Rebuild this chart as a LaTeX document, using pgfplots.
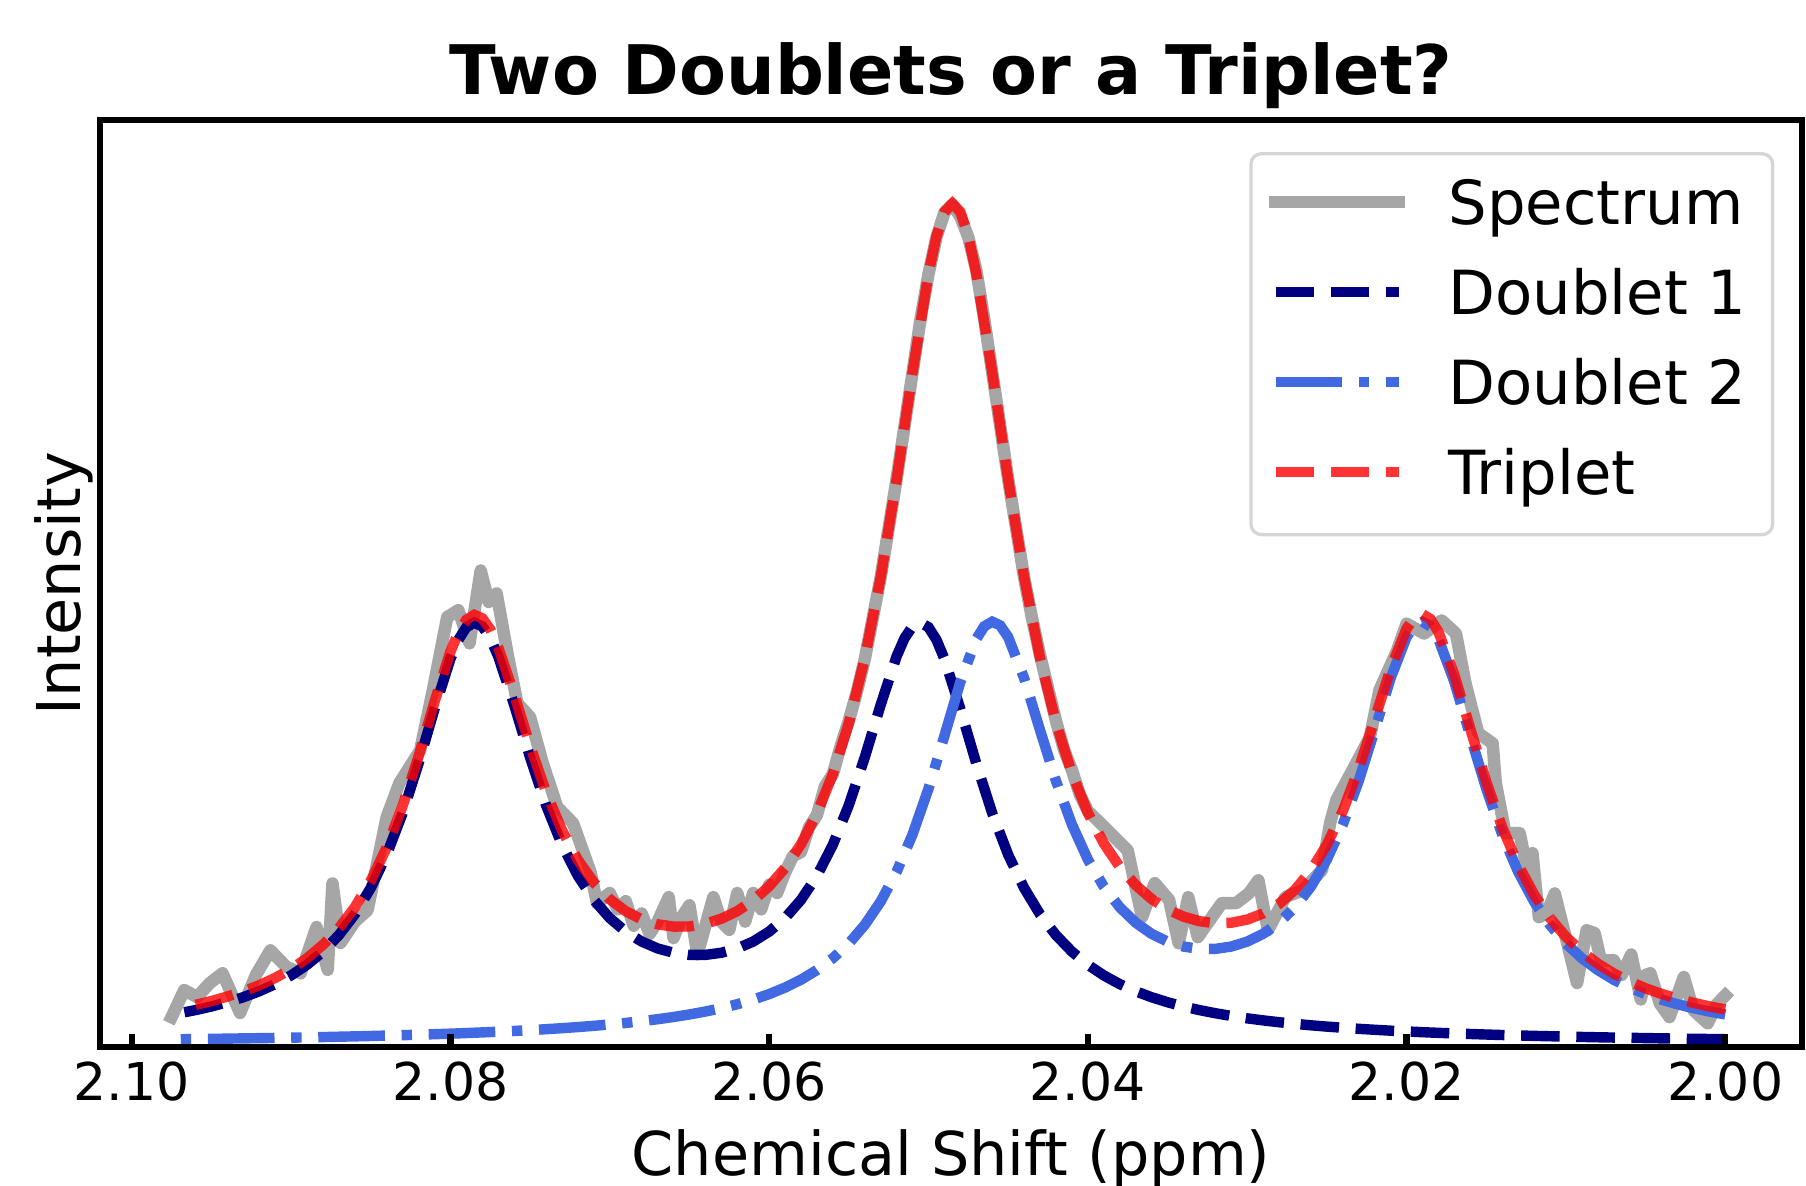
\documentclass[border=0pt]{standalone}
\usepackage{pgfplots}
\pgfplotsset{compat=1.18}
\usepackage{fontspec}
\setmainfont{DejaVu Sans}
\definecolor{specgray}{RGB}{166,166,166}
\definecolor{navyc}{RGB}{0,0,128}
\definecolor{royal}{RGB}{65,105,225}
\definecolor{legframe}{RGB}{214,214,214}
\begin{document}
\begin{tikzpicture}
\useasboundingbox (-24pt,-33.1pt) rectangle (409.4pt,251.3pt);
\begin{axis}[
  at={(0pt,0pt)}, anchor=south west,
  scale only axis, width=408.5pt, height=222.5pt,
  x dir=reverse, xmin=1.99517, xmax=2.10199, ymin=-0.0063, ymax=2.256,
  axis on top,
  axis line style={line width=1.5pt},
  xtick={2.10,2.08,2.06,2.04,2.02,2.00},
  xticklabels={2.10,2.08,2.06,2.04,2.02,2.00},
  ytick=\empty,
  xtick pos=left, tick align=inside,
  major tick length=3.2pt,
  every tick/.style={black, line width=1.5pt},
  /pgf/number format/assume math mode=true,
  xticklabel style={font=\fontsize{12.5}{12.5}\selectfont},
  xlabel={Chemical Shift (ppm)},
  xlabel style={at={([yshift=-30.9pt]axis description cs:0.5,0)}, anchor=base, font=\fontsize{14.5}{14.5}\selectfont},
  ylabel={Intensity},
  ylabel style={at={([xshift=-4.7pt]axis description cs:0,0.5)}, rotate=0, anchor=base, font=\fontsize{14.5}{14.5}\selectfont},
  every axis title shift=0pt,
  title={Two Doublets or a Triplet?},
  title style={at={([yshift=6.2pt]axis description cs:0.5,1)}, anchor=base, font=\bfseries\fontsize{16.4}{16.4}\selectfont},
  legend style={at={(0.9836,0.9654)}, anchor=north east, draw=legframe, line width=0.8pt, fill=white,
    rounded corners=2.5pt, inner xsep=4.4pt, inner ysep=6.25pt,
    font=\fontsize{14.6}{14.6}\selectfont,
    nodes={inner sep=0pt, anchor=base west, text height=10.7pt, text depth=3.4pt},
    row sep=7.5pt,
    /tikz/every odd column/.append style={column sep=10.4pt}},
  legend cell align=left,
  legend image code/.code={\draw[#1] (0pt,5.4pt) -- (29.6pt,5.4pt);},
]
% Spectrum
\addplot[specgray, line width=3pt, line cap=rect, line join=round] coordinates {
(2.0000,0.12)(2.0005,0.10)(2.0011,0.052)(2.0020,0.084)(2.0026,0.165)(2.0035,0.067)(2.0041,0.10)(2.0047,0.174)(2.0050,0.17)(2.0053,0.11)
(2.0059,0.22)(2.0065,0.17)(2.0070,0.206)(2.0078,0.205)(2.0082,0.272)(2.0087,0.279)(2.0093,0.150)(2.0100,0.26)(2.0107,0.369)(2.0112,0.32)
(2.0117,0.311)(2.0121,0.467)(2.0123,0.401)(2.0129,0.516)(2.0138,0.516)(2.0144,0.638)(2.0146,0.735)(2.0155,0.760)(2.0163,0.881)(2.0169,1.003)
(2.0178,1.035)(2.0189,1.003)(2.0200,1.027)(2.0206,0.961)(2.0217,0.865)(2.0223,0.750)(2.0234,0.669)(2.0244,0.597)(2.0248,0.540)(2.0253,0.426)
(2.0265,0.377)(2.0276,0.360)(2.0287,0.279)(2.0293,0.401)(2.0299,0.369)(2.0307,0.345)(2.0316,0.345)(2.0331,0.262)(2.0337,0.360)(2.0343,0.247)
(2.0349,0.353)(2.0358,0.394)(2.0366,0.311)(2.0375,0.474)(2.0392,0.54)
(2.0400,0.57)(2.0405,0.61)(2.0410,0.67)(2.0415,0.72)(2.0420,0.79)(2.0425,0.87)(2.0430,0.95)(2.0435,1.04)(2.0440,1.14)(2.0445,1.26)
(2.0450,1.38)(2.0455,1.51)(2.0460,1.64)(2.0465,1.77)(2.0470,1.89)(2.0475,1.97)(2.0480,2.02)(2.0485,2.05)(2.0490,2.03)(2.0495,1.97)
(2.0500,1.88)(2.0505,1.77)(2.0510,1.64)(2.0515,1.51)(2.0520,1.38)(2.0525,1.26)(2.0530,1.14)(2.0535,1.04)(2.0540,0.94)(2.0545,0.86)
(2.0550,0.79)(2.0555,0.73)(2.0560,0.66)(2.0565,0.63)(2.0570,0.56)(2.0575,0.53)(2.0580,0.47)(2.0585,0.46)(2.0590,0.42)(2.0595,0.37)
(2.0600,0.39)(2.0605,0.33)(2.0610,0.37)(2.0615,0.30)(2.0620,0.37)(2.0625,0.28)(2.0630,0.30)(2.0635,0.36)(2.0640,0.29)(2.0645,0.22)
(2.0650,0.34)(2.0655,0.31)(2.0660,0.26)(2.0663,0.36)(2.0670,0.30)(2.0675,0.27)(2.0680,0.32)(2.0685,0.29)(2.0690,0.35)(2.0695,0.33)
(2.0700,0.37)(2.0708,0.345)(2.0712,0.42)(2.0723,0.54)(2.0733,0.58)(2.0742,0.686)(2.0750,0.799)(2.0758,0.833)(2.0764,0.95)(2.0771,1.101)
(2.0776,1.08)(2.0781,1.157)(2.0788,0.979)(2.0795,1.06)(2.0802,1.043)(2.0811,0.865)(2.0819,0.718)(2.0832,0.638)(2.0840,0.555)(2.0852,0.328)
(2.0860,0.300)(2.0869,0.248)(2.0874,0.393)(2.0877,0.182)(2.0884,0.287)(2.0894,0.174)(2.0903,0.190)(2.0913,0.230)(2.0922,0.170)(2.0932,0.077)
(2.0943,0.174)(2.0951,0.150)(2.0959,0.116)(2.0967,0.133)(2.0975,0.067)
};
\addlegendentry{Spectrum\hspace*{2pt}}
% Doublet 1
\addplot[navyc, line width=2.5pt, line cap=butt, dash pattern=on 9.25pt off 4pt] coordinates {
(2.000,0.0132)(2.001,0.0137)(2.002,0.0142)(2.003,0.0147)(2.004,0.0153)(2.005,0.0159)(2.006,0.0166)(2.007,0.0172)(2.008,0.0179)(2.009,0.0187)
(2.010,0.0195)(2.011,0.0204)(2.012,0.0213)(2.013,0.0224)(2.014,0.0234)(2.015,0.0246)(2.016,0.0259)(2.017,0.0272)(2.018,0.0287)(2.019,0.0303)
(2.020,0.0322)(2.021,0.0340)(2.022,0.0362)(2.023,0.0385)(2.024,0.0411)(2.025,0.0439)(2.026,0.0471)(2.027,0.0507)(2.028,0.0546)(2.029,0.0591)
(2.030,0.0641)(2.031,0.0699)(2.032,0.0766)(2.033,0.0842)(2.034,0.0930)(2.035,0.1034)(2.036,0.1156)(2.037,0.1301)(2.038,0.1476)(2.039,0.1689)
(2.040,0.1947)(2.041,0.2269)(2.042,0.2671)(2.043,0.3179)(2.044,0.3822)(2.045,0.4634)(2.046,0.5647)(2.047,0.6858)(2.048,0.8187)(2.049,0.9411)
(2.0495,0.9878)(2.050,1.0184)(2.0505,1.0297)(2.051,1.0205)(2.0515,0.9919)(2.052,0.9474)(2.053,0.8291)(2.054,0.7007)(2.055,0.5842)(2.056,0.4878)
(2.057,0.4118)(2.058,0.3532)(2.059,0.3088)(2.060,0.2757)(2.061,0.2515)(2.062,0.2347)(2.063,0.2241)(2.064,0.2189)(2.065,0.2189)(2.066,0.2241)
(2.067,0.2347)(2.068,0.2515)(2.069,0.2757)(2.070,0.3088)(2.071,0.3532)(2.072,0.4118)(2.073,0.4878)(2.074,0.5842)(2.075,0.7007)(2.076,0.8291)
(2.077,0.9474)(2.0775,0.9919)(2.078,1.0205)(2.0785,1.0297)(2.079,1.0184)(2.0795,0.9878)(2.080,0.9411)(2.081,0.8187)(2.082,0.6858)(2.083,0.5647)
(2.084,0.4634)(2.085,0.3822)(2.086,0.3179)(2.087,0.2671)(2.088,0.2269)(2.089,0.1947)(2.090,0.1689)(2.091,0.1476)(2.092,0.1301)(2.093,0.1156)
(2.094,0.1034)(2.095,0.0930)(2.096,0.0842)(2.097,0.0766)
};
\addlegendentry{Doublet 1\hspace*{2pt}}
% Doublet 2
\addplot[royal, line width=2.5pt, line cap=butt, dash pattern=on 16pt off 4pt on 2.5pt off 4pt] coordinates {
(2.000,0.0736)(2.001,0.0807)(2.002,0.0889)(2.003,0.0985)(2.004,0.1098)(2.005,0.1232)(2.006,0.1392)(2.007,0.1584)(2.008,0.1820)(2.009,0.2108)
(2.010,0.2468)(2.011,0.2920)(2.012,0.3492)(2.013,0.4217)(2.014,0.5128)(2.015,0.6245)(2.016,0.7534)(2.017,0.8850)(2.018,0.9897)(2.0185,1.0205)
(2.019,1.0319)(2.0195,1.0228)(2.020,0.9943)(2.021,0.8942)(2.022,0.7674)(2.023,0.6435)(2.024,0.5372)(2.025,0.4517)(2.026,0.3855)(2.027,0.3352)
(2.028,0.2976)(2.029,0.2703)(2.030,0.2513)(2.031,0.2393)(2.032,0.2335)(2.033,0.2335)(2.034,0.2393)(2.035,0.2513)(2.036,0.2703)(2.037,0.2976)
(2.038,0.3352)(2.039,0.3855)(2.040,0.4517)(2.041,0.5372)(2.042,0.6435)(2.043,0.7674)(2.044,0.8942)(2.045,0.9943)(2.0455,1.0228)(2.046,1.0319)
(2.0465,1.0205)(2.047,0.9897)(2.048,0.8850)(2.049,0.7534)(2.050,0.6245)(2.051,0.5128)(2.052,0.4217)(2.053,0.3492)(2.054,0.2920)(2.055,0.2468)
(2.056,0.2108)(2.057,0.1820)(2.058,0.1584)(2.059,0.1392)(2.060,0.1232)(2.061,0.1098)(2.062,0.0985)(2.063,0.0889)(2.064,0.0807)(2.065,0.0736)
(2.066,0.0674)(2.067,0.0619)(2.068,0.0572)(2.069,0.0529)(2.070,0.0492)(2.071,0.0458)(2.072,0.0428)(2.073,0.0401)(2.074,0.0376)(2.075,0.0354)
(2.076,0.0333)(2.077,0.0315)(2.078,0.0298)(2.079,0.0282)(2.080,0.0267)(2.081,0.0254)(2.082,0.0242)(2.083,0.0230)(2.084,0.0221)(2.085,0.0210)
(2.086,0.0201)(2.087,0.0193)(2.088,0.0184)(2.089,0.0177)(2.090,0.0169)(2.091,0.0163)(2.092,0.0157)(2.093,0.0152)(2.094,0.0146)(2.095,0.0140)
(2.096,0.0135)(2.097,0.0131)
};
\addlegendentry{Doublet 2\hspace*{2pt}}
% Triplet
\addplot[red, draw opacity=0.8, line width=2.5pt, line cap=butt, dash pattern=on 9.25pt off 4pt] coordinates {
(2.000,0.0859)(2.001,0.0933)(2.002,0.1020)(2.003,0.1120)(2.004,0.1237)(2.005,0.1374)(2.006,0.1540)(2.007,0.1736)(2.008,0.1975)(2.009,0.2271)
(2.010,0.2631)(2.011,0.3088)(2.012,0.3663)(2.013,0.4390)(2.014,0.5302)(2.015,0.6417)(2.016,0.7705)(2.017,0.9020)(2.018,1.0072)(2.0185,1.0383)
(2.019,1.0502)(2.0195,1.0422)(2.020,1.0147)(2.021,0.9173)(2.022,0.7937)(2.023,0.6729)(2.024,0.5699)(2.025,0.4877)(2.026,0.4247)(2.027,0.3778)
(2.028,0.3435)(2.029,0.3201)(2.030,0.3051)(2.031,0.2973)(2.032,0.2961)(2.033,0.3012)(2.034,0.3123)(2.035,0.3300)(2.036,0.3553)(2.037,0.3893)
(2.038,0.4337)(2.039,0.4912)(2.040,0.5656)(2.041,0.6618)(2.042,0.7853)(2.043,0.9431)(2.044,1.1412)(2.045,1.3791)(2.046,1.6406)(2.047,1.8814)
(2.0475,1.9726)(2.048,2.0318)(2.0485,2.0522)(2.049,2.0316)(2.0495,1.9724)(2.050,1.8812)(2.051,1.6402)(2.052,1.3786)(2.053,1.1403)(2.054,0.9421)
(2.055,0.7841)(2.056,0.6602)(2.057,0.5639)(2.058,0.4890)(2.059,0.4311)(2.060,0.3863)(2.061,0.3517)(2.062,0.3257)(2.063,0.3071)(2.064,0.2949)
(2.065,0.2883)(2.066,0.2880)(2.067,0.2936)(2.068,0.3056)(2.069,0.3254)(2.070,0.3548)(2.071,0.3955)(2.072,0.4506)(2.073,0.5232)(2.074,0.6161)
(2.075,0.7293)(2.076,0.8544)(2.077,0.9696)(2.0775,1.0129)(2.078,1.0402)(2.0785,1.0486)(2.079,1.0367)(2.0795,1.0056)(2.080,0.9587)(2.081,0.8361)
(2.082,0.7033)(2.083,0.5824)(2.084,0.4811)(2.085,0.3996)(2.086,0.3350)(2.087,0.2838)(2.088,0.2434)(2.089,0.2107)(2.090,0.1843)(2.091,0.1627)
(2.092,0.1447)(2.093,0.1299)(2.094,0.1173)(2.095,0.1063)(2.096,0.0970)(2.097,0.0890)
};
\addlegendentry{Triplet\hspace*{2pt}}
\end{axis}
\end{tikzpicture}
\end{document}
